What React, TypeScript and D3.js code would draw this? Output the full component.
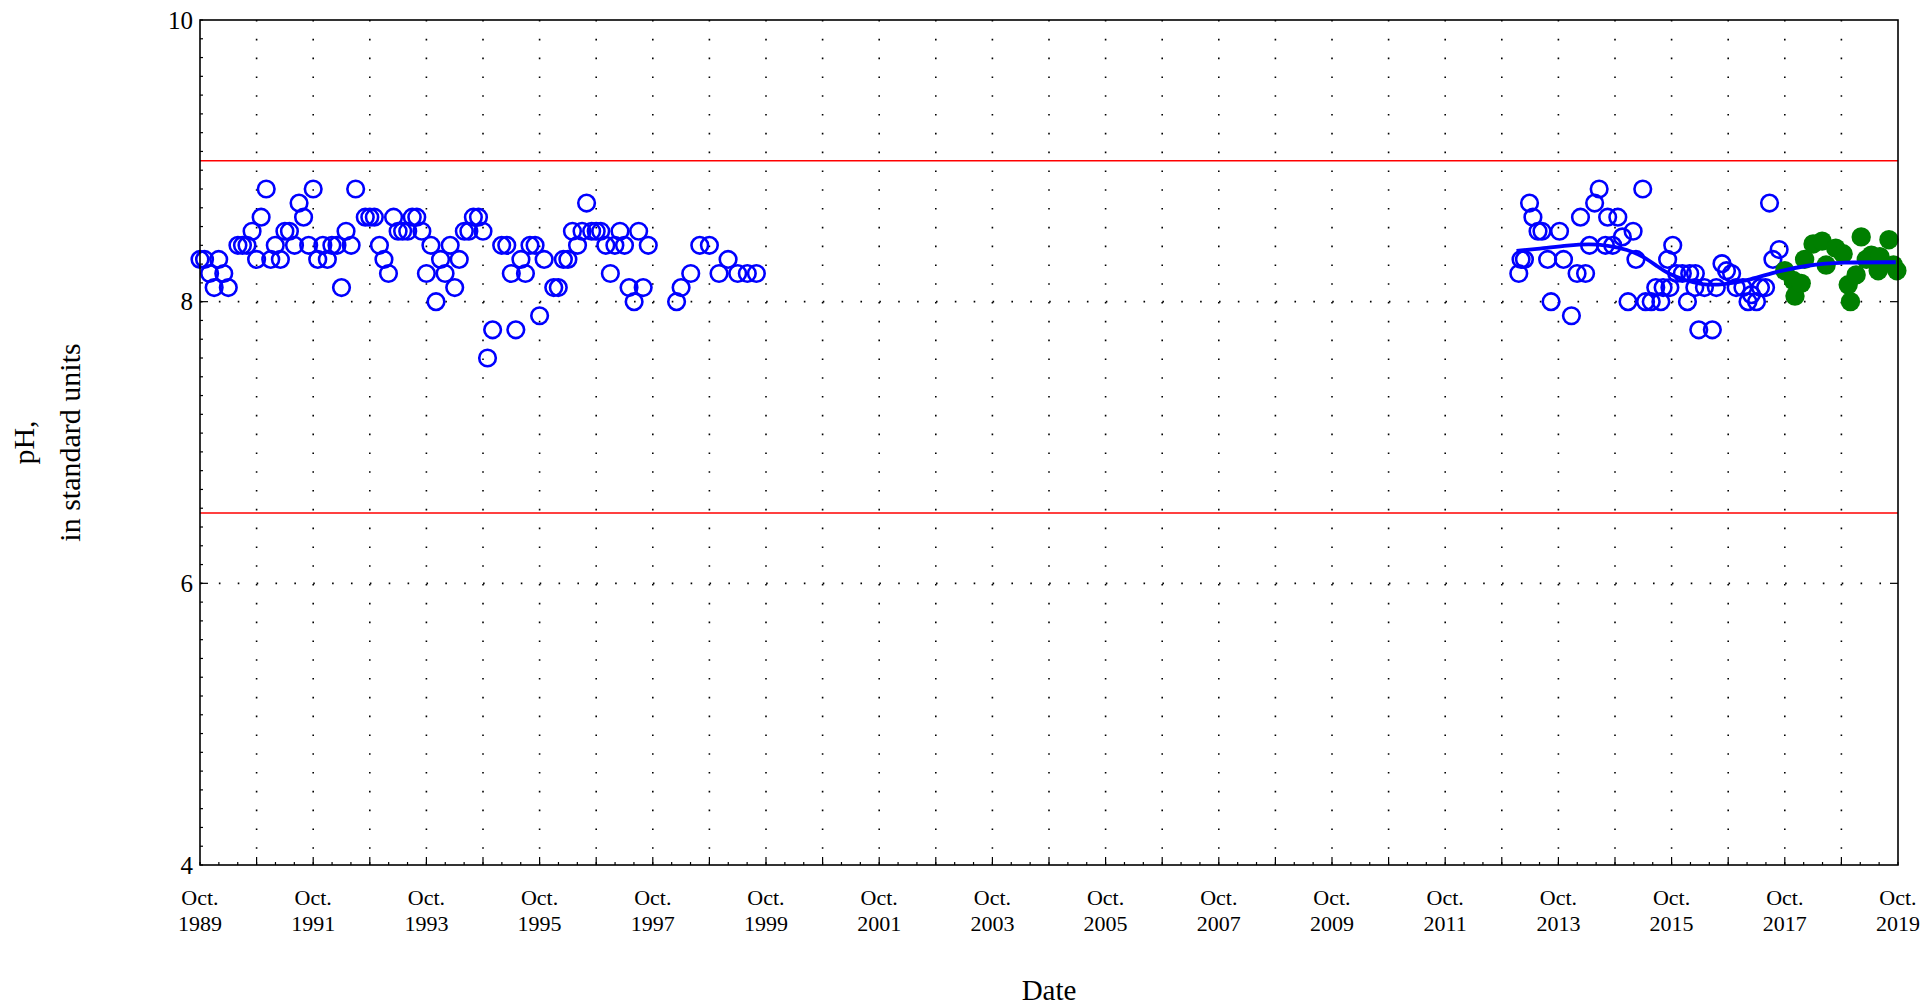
import * as d3 from "d3";

const width = 1929;
const height = 1006;
const margin = { left: 200, right: 31, top: 20, bottom: 141 };

// sample dates as decimal years, pH in standard units
const blueYears = [
  1989.75, 1989.83, 1989.92, 1990.0, 1990.08, 1990.17, 1990.25, 1990.42, 1990.5, 1990.58,
  1990.67, 1990.75, 1990.83, 1990.92, 1991.0, 1991.08, 1991.17, 1991.25, 1991.33, 1991.42,
  1991.5, 1991.58, 1991.67, 1991.75, 1991.83, 1991.92, 1992.0, 1992.08, 1992.17, 1992.25,
  1992.33, 1992.42, 1992.5, 1992.67, 1992.75, 1992.83, 1992.92, 1993.0, 1993.08, 1993.17,
  1993.25, 1993.33, 1993.42, 1993.5, 1993.58, 1993.67, 1993.75, 1993.83, 1993.92, 1994.0,
  1994.08, 1994.17, 1994.25, 1994.33, 1994.42, 1994.5, 1994.58, 1994.67, 1994.75, 1994.83,
  1994.92, 1995.08, 1995.17, 1995.25, 1995.33, 1995.42, 1995.5, 1995.58, 1995.67, 1995.75,
  1995.83, 1996.0, 1996.08, 1996.17, 1996.25, 1996.33, 1996.42, 1996.5, 1996.58, 1996.67,
  1996.75, 1996.83, 1996.92, 1997.0, 1997.08, 1997.17, 1997.25, 1997.33, 1997.42, 1997.5,
  1997.58, 1997.67, 1998.17, 1998.25, 1998.42, 1998.58, 1998.75, 1998.92, 1999.08, 1999.25,
  1999.42, 1999.58,
  2013.05, 2013.09, 2013.15, 2013.24, 2013.3, 2013.39, 2013.46, 2013.56, 2013.62, 2013.77,
  2013.84, 2013.98, 2014.08, 2014.14, 2014.23, 2014.3, 2014.39, 2014.47, 2014.58, 2014.62,
  2014.71, 2014.8, 2014.88, 2014.98, 2015.07, 2015.12, 2015.24, 2015.29, 2015.39, 2015.47,
  2015.56, 2015.6, 2015.68, 2015.72, 2015.77, 2015.84, 2015.94, 2016.03, 2016.07, 2016.17,
  2016.23, 2016.16, 2016.33, 2016.47, 2016.54, 2016.64, 2016.72, 2016.81, 2016.89, 2017.01,
  2017.1, 2017.16, 2017.25, 2017.32, 2017.41, 2017.48, 2017.54, 2017.65,
];
const bluePH = [
  8.3, 8.3, 8.2, 8.1, 8.3, 8.2, 8.1, 8.4, 8.4, 8.4,
  8.5, 8.3, 8.6, 8.8, 8.3, 8.4, 8.3, 8.5, 8.5, 8.4,
  8.7, 8.6, 8.4, 8.8, 8.3, 8.4, 8.3, 8.4, 8.4, 8.1,
  8.5, 8.4, 8.8, 8.6, 8.6, 8.6, 8.4, 8.3, 8.2, 8.6,
  8.5, 8.5, 8.5, 8.6, 8.6, 8.5, 8.2, 8.4, 8.0, 8.3,
  8.2, 8.4, 8.1, 8.3, 8.5, 8.5, 8.6, 8.6, 8.5, 7.6,
  7.8, 8.4, 8.4, 8.2, 7.8, 8.3, 8.2, 8.4, 8.4, 7.9,
  8.3, 8.1, 8.1, 8.3, 8.3, 8.5, 8.4, 8.5, 8.7, 8.5,
  8.5, 8.5, 8.4, 8.2, 8.4, 8.5, 8.4, 8.1, 8.0, 8.5,
  8.1, 8.4, 8.0, 8.1, 8.2, 8.4, 8.4, 8.2, 8.3, 8.2,
  8.2, 8.2,
  8.2, 8.3, 8.3, 8.7, 8.6, 8.5, 8.5, 8.3, 8.0, 8.5,
  8.3, 7.9, 8.2, 8.6, 8.2, 8.4, 8.7, 8.8, 8.4, 8.6,
  8.4, 8.6, 8.46, 8.0, 8.5, 8.3, 8.8, 8.0, 8.0, 8.1,
  8.0, 8.1, 8.3, 8.1, 8.4, 8.2, 8.2, 8.0, 8.2, 8.2,
  7.8, 8.1, 8.1, 7.8, 8.1, 8.27, 8.22, 8.2, 8.1, 8.1,
  8.0, 8.05, 8.0, 8.1, 8.1, 8.7, 8.3, 8.37,
];

const greenYears = [
  2017.75, 2017.9, 2017.93, 2018.04, 2018.1, 2018.25, 2018.41, 2018.48, 2018.65, 2018.78,
  2018.87, 2018.91, 2019.01, 2019.1, 2019.19, 2019.28, 2019.4, 2019.43, 2019.59, 2019.67,
  2019.73,
];
const greenPH = [
  8.22, 8.15, 8.04, 8.13, 8.3, 8.41, 8.43, 8.26, 8.38, 8.34,
  8.12, 8.0, 8.19, 8.46, 8.3, 8.33, 8.22, 8.32, 8.44, 8.26,
  8.22,
];

const trendYears = [
  2013.01, 2013.5, 2013.91, 2014.3, 2014.62, 2014.97, 2015.26, 2015.5, 2015.68, 2016.0,
  2016.27, 2016.67, 2017.09, 2017.56, 2018.16, 2018.74, 2019.71,
];
const trendPH = [
  8.36, 8.38, 8.4, 8.41, 8.4, 8.37, 8.32, 8.25, 8.2, 8.15,
  8.12, 8.12, 8.15, 8.21, 8.26, 8.28, 8.28,
];

const limits = [9, 6.5];
const yTicks = [4, 6, 8, 10];
const xLabelYears = d3.range(1989, 2020, 2);

export default function App() {
  const x0 = margin.left;
  const x1 = width - margin.right;
  const y0 = margin.top;
  const y1 = height - margin.bottom;

  const x = d3.scaleLinear().domain([1989.75, 2019.75]).range([x0, x1]);
  const y = d3.scaleLinear().domain([4, 10]).range([y1, y0]);

  const yearTicks = d3.range(1990.75, 2019, 1);
  const minorX = d3.range(1989.75, 2019.76, 1 / 3);
  const minorY = d3.range(4, 10.001, 2 / 15);

  const line = d3
    .line<number>()
    .x((_, i) => x(trendYears[i]))
    .y((d) => y(d))
    .curve(d3.curveBasis);

  const font = "'Liberation Serif', 'Times New Roman', serif";

  return (
    <svg
      width={width}
      height={height}
      style={{ position: "absolute", left: 0, top: 0, display: "block", background: "#fff" }}
      fontFamily={font}
    >
      {/* dotted grid */}
      {yearTicks.map((t) => (
        <line
          key={`vg${t}`}
          x1={x(t)}
          x2={x(t)}
          y1={y0}
          y2={y1}
          stroke="#000"
          strokeWidth={1.6}
          strokeDasharray="1.6 17.2"
        />
      ))}
      {[6, 8].map((v) => (
        <line
          key={`hg${v}`}
          x1={x0}
          x2={x1}
          y1={y(v)}
          y2={y(v)}
          stroke="#000"
          strokeWidth={1.6}
          strokeDasharray="1.6 17.27"
        />
      ))}

      {/* limit lines */}
      {limits.map((v) => (
        <line key={`lim${v}`} x1={x0} x2={x1} y1={y(v)} y2={y(v)} stroke="#ff0000" strokeWidth={1.5} />
      ))}

      {/* ticks */}
      {minorX.map((t) => (
        <line key={`mx${t}`} x1={x(t)} x2={x(t)} y1={y1} y2={y1 - 3} stroke="#000" strokeWidth={1.2} />
      ))}
      {yearTicks.map((t) => (
        <line key={`tx${t}`} x1={x(t)} x2={x(t)} y1={y1} y2={y1 - 8} stroke="#000" strokeWidth={1.2} />
      ))}
      {minorY.map((v) => (
        <line key={`my${v}`} x1={x0} x2={x0 + 3} y1={y(v)} y2={y(v)} stroke="#000" strokeWidth={1.2} />
      ))}
      {[6, 8].map((v) => (
        <g key={`ty${v}`}>
          <line x1={x0} x2={x0 + 8} y1={y(v)} y2={y(v)} stroke="#000" strokeWidth={1.2} />
          <line x1={x1} x2={x1 - 8} y1={y(v)} y2={y(v)} stroke="#000" strokeWidth={1.2} />
        </g>
      ))}

      {/* data */}
      {blueYears.map((t, i) => (
        <circle
          key={`b${i}`}
          cx={x(t)}
          cy={y(bluePH[i])}
          r={8.3}
          fill="none"
          stroke="#0000ff"
          strokeWidth={2.6}
        />
      ))}
      {greenYears.map((t, i) => (
        <circle key={`g${i}`} cx={x(t)} cy={y(greenPH[i])} r={9.7} fill="#007f00" />
      ))}
      <path d={line(trendPH) ?? ""} fill="none" stroke="#0000ff" strokeWidth={3.8} />

      {/* frame */}
      <rect x={x0} y={y0} width={x1 - x0} height={y1 - y0} fill="none" stroke="#000" strokeWidth={1.6} />

      {/* y tick labels */}
      {yTicks.map((v) => (
        <text key={`yl${v}`} x={x0 - 7} y={y(v)} dy="0.34em" textAnchor="end" fontSize={25}>
          {v}
        </text>
      ))}

      {/* x tick labels */}
      {xLabelYears.map((yr) => (
        <text key={`xl${yr}`} x={x(yr + 0.75)} textAnchor="middle" fontSize={22}>
          <tspan x={x(yr + 0.75)} y={905}>
            Oct.
          </tspan>
          <tspan x={x(yr + 0.75)} y={931}>
            {yr}
          </tspan>
        </text>
      ))}

      {/* axis titles */}
      <text x={(x0 + x1) / 2} y={1000} textAnchor="middle" fontSize={29}>
        Date
      </text>
      <text transform={`translate(34,${(y0 + y1) / 2}) rotate(-90)`} textAnchor="middle" fontSize={30}>
        pH,
      </text>
      <text transform={`translate(80,${(y0 + y1) / 2}) rotate(-90)`} textAnchor="middle" fontSize={30}>
        in standard units
      </text>
    </svg>
  );
}
